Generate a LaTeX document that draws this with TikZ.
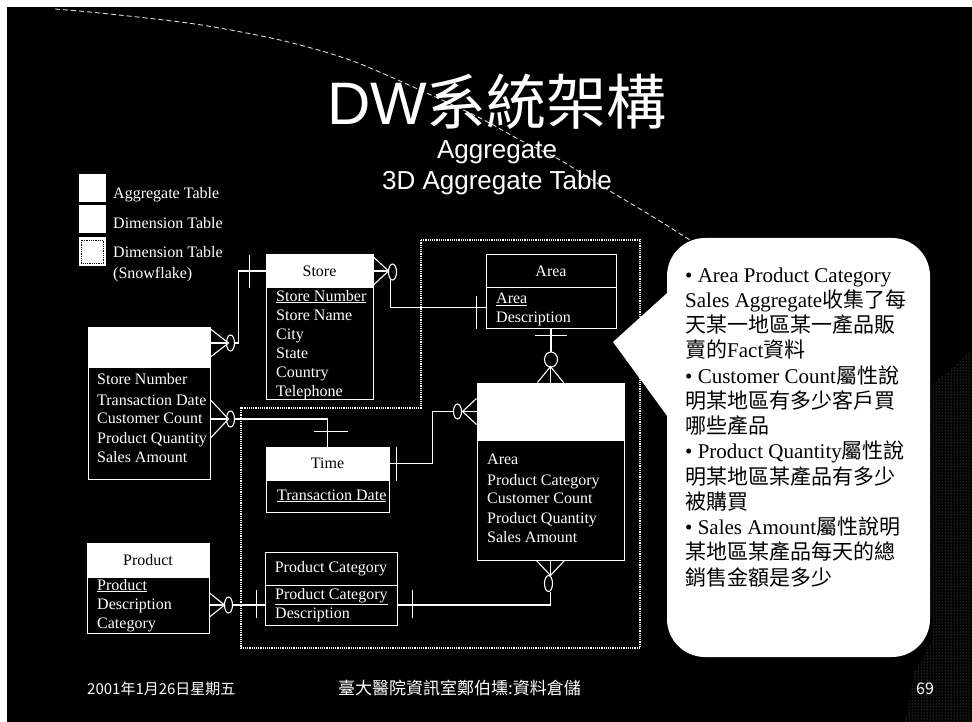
\documentclass[tikz,border=0pt]{standalone}
\usepackage{fontspec}
\setmainfont{Liberation Serif}
\newfontfamily\cjk{Noto Sans CJK TC}
\newfontfamily\arialf{Liberation Sans}
\usetikzlibrary{calc,fit,patterns}
\begin{document}
\begin{tikzpicture}[x=1pt,y=-1pt,
  conn/.style={draw=white, line width=1.1pt},
  wbox/.style={fill=white, draw=white, line width=1pt, inner sep=0pt},
  bbox/.style={fill=black, draw=white, line width=1pt, inner sep=0pt},
  tx/.style={text=white, inner sep=0pt, anchor=base west, font=\fontsize{16}{19}\selectfont},
  hk/.style={text=black, inner sep=0pt, font=\fontsize{16}{19}\selectfont},
  hw/.style={text=white, inner sep=0pt, font=\fontsize{16}{19}\selectfont},
  bub/.style={text=black, inner sep=0pt, anchor=base west, font=\fontsize{21}{25}\selectfont},
  foot/.style={text=white, inner sep=0pt, anchor=base west},
  zero/.style={draw=white, line width=1.1pt}
]
\useasboundingbox (0,0) rectangle (972,722);
\fill[white] (0,0) rectangle (972,722);
\fill[black] (7,7) rectangle (972,722);

% decorative curve
\draw[white!85!black, line width=0.9pt, dash pattern=on 5pt off 3pt]
  plot[smooth] coordinates {(55,9) (100,13) (195,24) (280,40) (350,60) (420,90) (480,118) (520,140) (560,160) (605,188) (650,215) (690,240)};

% title
\node[text=white, inner sep=0pt, anchor=base] (title) at (497,125)
  {\fontsize{60}{60}\selectfont\arialf DW\cjk 系統架構};
\node[text=white, inner sep=0pt, anchor=base, font=\arialf\fontsize{26}{26}\selectfont] (sub1) at (497,159) {Aggregate};
\node[text=white, inner sep=0pt, anchor=base, font=\arialf\fontsize{26}{26}\selectfont] (sub2) at (497,190) {3D Aggregate Table};

% legend
\node[wbox, fit={(79,175)(105,202)}] (lg1) {};
\node[wbox, fit={(79,206)(105,233)}] (lg2) {};
\node[wbox, fit={(79,238)(105,265)}] (lg3) {};
\draw[black, densely dotted, line width=0.8pt] (81,240) rectangle (103,263);
\node[tx] (lgt1) at (113,198.5) {Aggregate Table};
\node[tx] (lgt2) at (113,228.5) {Dimension Table};
\node[tx] (lgt3) at (113,258) {Dimension Table};
\node[tx] (lgt4) at (113,278) {(Snowflake)};

% snowflake region
\draw[white, densely dotted, line width=1.2pt]
  (421,240) -- (640,240) -- (640,648) -- (241,648) -- (241,408) -- (421,408) -- cycle;

% tables
\node[wbox, fit={(88,327)(210,367)}] (factH) {};
\node[bbox, fit={(88,367)(210,479)}] (factB) {};
\node[wbox, fit={(266,255)(373,287)}] (storeH) {};
\node[bbox, fit={(266,287)(373,399)}] (storeB) {};
\node[bbox, fit={(486,255)(616,287)}] (areaH) {};
\node[bbox, fit={(486,287)(616,328)}] (areaB) {};
\node[wbox, fit={(266,447)(389,480)}] (timeH) {};
\node[bbox, fit={(266,480)(389,512)}] (timeB) {};
\node[wbox, fit={(477,383)(624,440)}] (aggH) {};
\node[bbox, fit={(477,440)(624,560)}] (aggB) {};
\node[wbox, fit={(87,543)(209,577)}] (prodH) {};
\node[bbox, fit={(87,577)(209,633)}] (prodB) {};
\node[bbox, fit={(265,552)(397,585)}] (pcH) {};
\node[bbox, fit={(265,585)(397,625)}] (pcB) {};

% header labels
\node[hk] (storeT) at (storeH) {Store};
\node[hw] (areaT) at (areaH) {Area};
\node[hk] (timeT) at (timeH) {Time};
\node[hk] (prodT) at (prodH) {Product};
\node[hw] (pcT) at (pcH) {Product Category};

% body texts
\node[tx] (f1) at (97,384.5) {Store Number};
\node[tx] (f2) at (97,405) {Transaction Date};
\node[tx] (f3) at (97,423.5) {Customer Count};
\node[tx] (f4) at (97,443.5) {Product Quantity};
\node[tx] (f5) at (97,462) {Sales Amount};

\node[tx] (s1) at (276,301) {\underline{Store Number}};
\node[tx] (s2) at (276,320.5) {Store Name};
\node[tx] (s3) at (276,339.5) {City};
\node[tx] (s4) at (276,358) {State};
\node[tx] (s5) at (276,377) {Country};
\node[tx] (s6) at (276,396) {Telephone};

\node[tx] (a1) at (496,303.5) {\underline{Area}};
\node[tx] (a2) at (496,322.5) {Description};

\node[tx] (t1) at (277,500) {\underline{Transaction Date}};

\node[tx] (g1) at (487,464.5) {Area};
\node[tx] (g2) at (487,485) {Product Category};
\node[tx] (g3) at (487,503.5) {Customer Count};
\node[tx] (g4) at (487,523.5) {Product Quantity};
\node[tx] (g5) at (487,542) {Sales Amount};

\node[tx] (p1) at (97,590) {\underline{Product}};
\node[tx] (p2) at (97,609) {Description};
\node[tx] (p3) at (97,628.5) {Category};

\node[tx] (c1t) at (275,599) {\underline{Product Category}};
\node[tx] (c2t) at (275,618.5) {Description};

% connector: fact -> store
\coordinate (k1) at ($(factH.east)+(0,-4)$);
\draw[conn] ($(k1)+(0,-14)$) -- ($(k1)+(18,0)$) -- ($(k1)+(0,14)$);
\draw[conn] (k1) -- ++(16,0);
\draw[zero] ($(k1)+(20,0)$) ellipse [x radius=4, y radius=8];
\draw[conn] ($(k1)+(24,0)$) -- ++(4,0) |- (storeH.west);
\draw[conn] ($(storeH.west)+(-16,-16)$) -- ++(0,33);

% connector: fact -> time
\coordinate (k2) at ($(factB.east)+(0,-4)$);
\draw[conn] ($(k2)+(0,-19)$) -- ($(k2)+(18,0)$) -- ($(k2)+(0,19)$);
\draw[conn] (k2) -- ++(16,0);
\draw[zero] ($(k2)+(20,0)$) ellipse [x radius=4, y radius=8];
\draw[conn] ($(k2)+(24,0)$) -| (timeH.north);
\draw[conn] ($(timeH.north)+(-14,-15)$) -- ++(34,0);

% connector: store -> area
\coordinate (k3) at (storeH.east);
\draw[conn] ($(k3)+(0,-14)$) -- ($(k3)+(15,0)$) -- ($(k3)+(0,14)$);
\draw[conn] (k3) -- ++(15,0);
\draw[zero] ($(k3)+(19,1)$) ellipse [x radius=4, y radius=8];
\draw[conn] ($(k3)+(17,9)$) |- (areaB.west);
\draw[conn] ($(areaB.west)+(-9,-12)$) -- ++(0,33);

% connector: area -> aggregate
\draw[conn] (areaB.south) -- ++(0,23);
\draw[conn] ($(areaB.south)+(-16,7)$) -- ++(32,0);
\draw[zero] ($(areaB.south)+(0,31)$) ellipse [x radius=6.5, y radius=7.5];
\draw[conn] ($(aggH.north)+(0,-16)$) -- (aggH.north);
\draw[conn] ($(aggH.north)+(-13,0)$) -- ($(aggH.north)+(0,-16)$) -- ($(aggH.north)+(13,0)$);

% connector: time -> aggregate
\coordinate (k5) at (aggH.west);
\draw[conn] ($(k5)+(0,-13)$) -- ($(k5)+(-14,0)$) -- ($(k5)+(0,13)$);
\draw[conn] (k5) -- ++(-15,0);
\draw[zero] ($(k5)+(-19,0)$) ellipse [x radius=4, y radius=7.5];
\draw[conn] ($(k5)+(-23,0)$) -- ++(-21,0) |- (timeH.east);
\draw[conn] ($(timeH.east)+(7,-17)$) -- ++(0,34);

% connector: product -> product category
\coordinate (k6) at (prodB.east);
\draw[conn] ($(k6)+(0,-12)$) -- ($(k6)+(15,0)$) -- ($(k6)+(0,12)$);
\draw[conn] (k6) -- ++(15,0);
\draw[zero] ($(k6)+(19,0)$) ellipse [x radius=4, y radius=8];
\draw[conn] ($(k6)+(23,0)$) -- (pcB.west);
\draw[conn] ($(pcB.west)+(-8,-15)$) -- ++(0,28);

% connector: product category -> aggregate
\draw[conn] (pcB.east) -| ($(aggB.south)+(0,31)$);
\draw[conn] ($(pcB.east)+(15,-15)$) -- ++(0,28);
\draw[zero] ($(aggB.south)+(-2,23)$) ellipse [x radius=4, y radius=8];
\draw[conn] ($(aggB.south)+(0,15)$) -- (aggB.south);
\draw[conn] ($(aggB.south)+(-14,0)$) -- ($(aggB.south)+(0,15)$) -- ($(aggB.south)+(14,0)$);

% dither texture at right
\fill[pattern=dots, pattern color=white!55!black]
  (933,385) -- (972,350) -- (972,722) -- (905,722) -- (915,670) -- (933,640) -- cycle;

% callout bubble
\fill[white, rounded corners=38pt] (667,238) rectangle (930,657);
\fill[white] (613,342) -- (676,285) -- (676,428) -- cycle;

\foreach \t [count=\i] in {
  {• Area Product Category},
  {Sales Aggregate{\cjk 收集了每}},
  {{\cjk 天某一地區某一產品販}},
  {{\cjk 賣的}Fact{\cjk 資料}},
  {• Customer Count{\cjk 屬性說}},
  {{\cjk 明某地區有多少客戶買}},
  {{\cjk 哪些產品}},
  {• Product Quantity{\cjk 屬性說}},
  {{\cjk 明某地區某產品有多少}},
  {{\cjk 被購買}},
  {• Sales Amount{\cjk 屬性說明}},
  {{\cjk 某地區某產品每天的總}},
  {{\cjk 銷售金額是多少}}}
  \node[bub] (bt\i) at (685,{282+25.25*(\i-1)}) {\t};

% footer
\node[foot, font=\cjk\fontsize{15}{15}\selectfont] (date) at (87,694) {2001年1月26日星期五};
\node[foot, font=\cjk\fontsize{17}{17}\selectfont] (org) at (338,694) {臺大醫院資訊室鄭伯壎:資料倉儲};
\node[foot, font=\cjk\fontsize{16}{16}\selectfont] (pg) at (916,694) {69};
\end{tikzpicture}
\end{document}
